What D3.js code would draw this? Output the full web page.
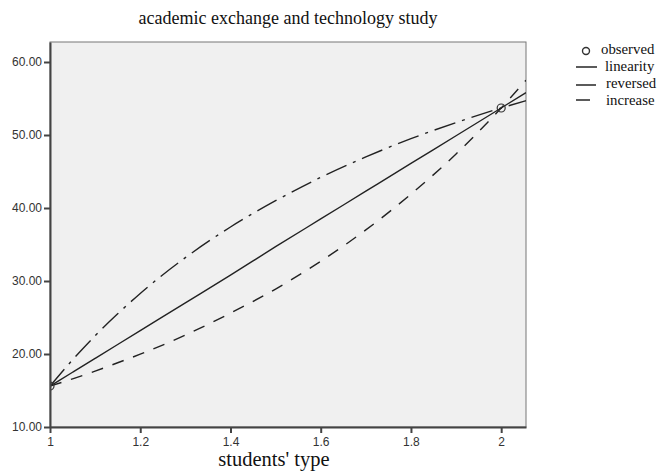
<!DOCTYPE html>
<html><head><meta charset="utf-8">
<script src="https://cdn.jsdelivr.net/npm/d3@7"></script>
<style>body{margin:0;background:#fff}</style>
</head><body>
<svg id="c" width="669" height="474"></svg>
<script>
const xTicks = [1, 1.2, 1.4, 1.6, 1.8, 2];
const yTicks = [10, 20, 30, 40, 50, 60];
const observedX = [1, 2];
const observedY = [15.6, 53.7];
const curveX = [1, 1.05, 1.1, 1.15, 1.2, 1.3, 1.4, 1.5, 1.6, 1.7, 1.8, 1.9, 2.0, 2.055];
const linearity = [15.6, 17.5, 19.4, 21.3, 23.2, 27.0, 30.8, 34.7, 38.5, 42.3, 46.1, 49.9, 53.7, 55.8];
const reversed = [15.6, 19.2, 22.5, 25.5, 28.3, 33.2, 37.4, 41.0, 44.2, 47.0, 49.5, 51.7, 53.7, 54.7];
const increase = [15.6, 16.6, 17.65, 18.8, 19.97, 22.6, 25.6, 28.9, 32.7, 37.0, 41.9, 47.4, 53.7, 57.5];
const seriesNames = ["linearity", "reversed", "increase"];
const legendLabels = ["observed", "linearity", "reversed", "increase"];
const title = "academic exchange and technology study";
const xTitle = "students' type";

const svg = d3.select("#c");
const L = 50, T = 42, R = 526, B = 427;
const x = d3.scaleLinear().domain([1, 2.055]).range([L, R]);
const y = d3.scaleLinear().domain([10, 62.74]).range([B, T]);

svg.append("rect").attr("x", L).attr("y", T).attr("width", R - L).attr("height", B - T)
  .attr("fill", "#f0f0f0").attr("stroke", "#777").attr("stroke-width", 1);

svg.append("clipPath").attr("id", "clp").append("rect")
  .attr("x", L).attr("y", T).attr("width", R - L).attr("height", B - T);

const styles = {linearity: null, reversed: "22,7,3,7", increase: "12,10"};
const data = {linearity, reversed, increase};
const line = d3.line().x(d => x(d[0])).y(d => y(d[1])).curve(d3.curveMonotoneX);
const g = svg.append("g").attr("clip-path", "url(#clp)");
seriesNames.forEach(n => {
  g.append("path").datum(curveX.map((v, i) => [v, data[n][i]]))
    .attr("d", line).attr("fill", "none").attr("stroke", "#222")
    .attr("stroke-width", 1.4).attr("stroke-dasharray", styles[n]);
});
g.selectAll("circle.obs").data(observedX.map((v, i) => [v, observedY[i]])).enter()
  .append("circle").attr("cx", d => x(d[0])).attr("cy", d => y(d[1])).attr("r", 4)
  .attr("fill", "none").attr("stroke", "#333").attr("stroke-width", 1.2);

const xa = svg.append("g").attr("transform", `translate(0,${B})`)
  .call(d3.axisBottom(x).tickValues(xTicks).tickSize(6).tickSizeOuter(0).tickFormat(d3.format("")));
const ya = svg.append("g").attr("transform", `translate(${L},0)`)
  .call(d3.axisLeft(y).tickValues(yTicks).tickSize(6).tickSizeOuter(0).tickFormat(d3.format(".2f")));
[xa, ya].forEach(a => {
  a.select(".domain").attr("stroke", "#444").attr("stroke-width", 2);
  a.selectAll(".tick line").attr("stroke", "#444").attr("stroke-width", 2);
  a.selectAll(".tick text").attr("fill", "#333").attr("font-family", "Liberation Sans, Arial, sans-serif").attr("font-size", 12);
});
xa.selectAll(".tick text").attr("dy", "0.85em");
ya.selectAll(".tick text").attr("dx", "1px");

svg.append("text").attr("x", 288).attr("y", 24).attr("text-anchor", "middle")
  .attr("font-family", "Liberation Serif, Times New Roman, serif").attr("font-size", 18).attr("fill", "#111").text(title);
svg.append("text").attr("x", 274).attr("y", 466).attr("text-anchor", "middle")
  .attr("font-family", "Liberation Serif, Times New Roman, serif").attr("font-size", 20.5).attr("fill", "#111").text(xTitle);

const lg = svg.append("g").attr("font-family", "Liberation Serif, Times New Roman, serif").attr("font-size", 14.8).attr("fill", "#111");
const ly = [54, 71, 88, 105];
lg.append("circle").attr("cx", 586).attr("cy", 51).attr("r", 3.5).attr("fill", "none").attr("stroke", "#333").attr("stroke-width", 1.4);
const sym = [[576, 597], [576, 596], [576, 590]];
const symY = [67, 85, 100];
seriesNames.forEach((n, i) => {
  lg.append("line").attr("x1", sym[i][0]).attr("x2", sym[i][1]).attr("y1", symY[i]).attr("y2", symY[i])
    .attr("stroke", "#333").attr("stroke-width", 1.6);
});
const lx = [601, 605, 606, 606];
legendLabels.forEach((t, i) => {
  lg.append("text").attr("x", lx[i]).attr("y", ly[i]).text(t);
});
</script>
</body></html>
